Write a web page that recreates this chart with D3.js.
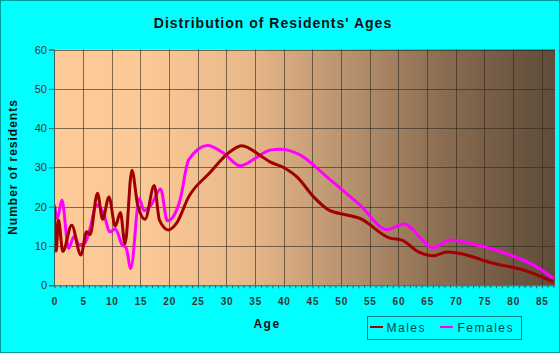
<!DOCTYPE html>
<html><head><meta charset="utf-8">
<script src="https://cdn.jsdelivr.net/npm/d3@7"></script>
<style>html,body{margin:0;padding:0;background:#00ffff;}svg{display:block;font-family:Arial,"Liberation Sans",sans-serif;}</style>
</head><body>
<script>
const maleAges   = [0,0.3,0.7,1.45,3.0,4.6,5.6,6.2,7.5,8.4,9.5,10.6,11.5,12.3,13.5,14.5,15.8,17.4,18.3,19.9,21.3,23.4,27,30.6,32.7,35.9,37.6,40.2,42.3,45.2,47.8,51,53.3,58.5,60.6,63.5,66.1,68.4,70.7,76.5,81.8,87];
const maleValues = [20,8.7,16.6,8.6,15.3,7.7,13.6,12.9,23.4,16.8,22.5,15,18.5,10.5,29.3,20.5,16.8,25.4,16.6,14.1,15.8,22.5,28.5,34,35.5,33,31.4,29.8,27.6,22.5,19.2,17.9,17,12,11.5,8.5,7.5,8.5,8.1,5.6,3.9,0.9];
const femaleAges   = [0,0.5,1.3,2.45,3.4,4.3,5.2,6.3,7.3,8.5,9.7,10.6,11.8,12.5,13.3,14.8,15.6,16.8,18.5,19.7,20.9,21.9,23.4,26.7,29.5,32.4,35,37.6,39.4,42.8,47.5,53.3,58,60.9,66.1,69,73.6,79.5,83.5,87];
const femaleValues = [20.5,17,21.7,9.4,12.4,10.3,10.5,15,20.5,18.5,13.6,14.3,10.3,9.5,4.3,22,19,20.3,24.5,16.4,17.9,21.7,31.9,35.6,33.6,30.4,32.3,34.4,34.6,33.2,27.6,20.4,14.2,15.6,9.6,11.5,10.3,7.7,5.2,1.8];
const yTicks = [0,10,20,30,40,50,60];
const xTicks = [0,5,10,15,20,25,30,35,40,45,50,55,60,65,70,75,80,85];

const W=560,H=353;
const svg=d3.select("body").append("svg").attr("width",W).attr("height",H);
svg.append("rect").attr("x",0.5).attr("y",0.5).attr("width",W-1).attr("height",H-1).attr("fill","#00ffff").attr("stroke","#009a9a");

const x=d3.scaleLinear().domain([0,87.3]).range([54.5,555]);
const y=d3.scaleLinear().domain([0,60]).range([285.3,49.5]);

const defs=svg.append("defs");
const g=defs.append("linearGradient").attr("id","bg").attr("x1","0").attr("x2","1").attr("y1","0").attr("y2","0");
[[0,"#fecb98"],[0.18,"#fbc996"],[0.38,"#eab98b"],[0.58,"#b8936f"],[0.78,"#8a6c51"],[1,"#5e4b39"]].forEach(s=>g.append("stop").attr("offset",s[0]).attr("stop-color",s[1]));

svg.append("rect").attr("x",x(0)).attr("y",y(60)).attr("width",x(87.3)-x(0)).attr("height",y(0)-y(60)).attr("fill","url(#bg)");

// grid
svg.append("g").selectAll("line").data(yTicks.filter(d=>d>0)).join("line")
  .attr("x1",x(0)).attr("x2",x(87.3)).attr("y1",d=>Math.round(y(d))+0.5).attr("y2",d=>Math.round(y(d))+0.5)
  .attr("stroke","rgba(45,38,30,0.6)").attr("stroke-width",1);
svg.append("g").selectAll("line").data(xTicks.filter(d=>d>0)).join("line")
  .attr("y1",y(0)).attr("y2",y(60)).attr("x1",d=>Math.round(x(d))+0.5).attr("x2",d=>Math.round(x(d))+0.5)
  .attr("stroke","rgba(45,38,30,0.6)").attr("stroke-width",1);

// lines
const clip=defs.append("clipPath").attr("id","clip").append("rect").attr("x",x(0)).attr("y",y(60)).attr("width",x(87.3)-x(0)).attr("height",y(0)-y(60));
const line=d3.line().x(d=>x(d[0])).y(d=>y(d[1])).curve(d3.curveMonotoneX);
const lg=svg.append("g").attr("clip-path","url(#clip)");
lg.append("path").datum(femaleAges.map((a,i)=>[a,femaleValues[i]])).attr("d",line).attr("fill","none").attr("stroke","#ff00ff").attr("stroke-width",3).attr("stroke-linejoin","round");
lg.append("path").datum(maleAges.map((a,i)=>[a,maleValues[i]])).attr("d",line).attr("fill","none").attr("stroke","#a00000").attr("stroke-width",3).attr("stroke-linejoin","round");

// axes
const yAxis=svg.append("g").attr("transform",`translate(${x(0)-0.5},0)`).call(d3.axisLeft(y).tickValues(yTicks).tickSize(5).tickPadding(2).tickFormat(d3.format("d")));
yAxis.select(".domain").attr("stroke","#336666");
yAxis.selectAll(".tick line").attr("stroke","#336666");
yAxis.selectAll("text").attr("font-size",11).attr("fill","#333").attr("font-family","Arial,'Liberation Sans',sans-serif");

const xAxis=svg.append("g").attr("transform",`translate(0,${y(0)})`).call(d3.axisBottom(x).tickValues(d3.range(0,88,1)).tickSize(3).tickFormat(""));
xAxis.select(".domain").attr("stroke","#336666").attr("d",`M${x(0)},0.5H${x(87.3)}`);
xAxis.selectAll(".tick line").attr("stroke","#336666");
svg.append("g").selectAll("text").data(xTicks).join("text")
  .attr("x",d=>x(d)+0.5).attr("y",305).attr("text-anchor","middle").attr("font-size",10).attr("font-weight","bold")
  .attr("letter-spacing","0.8").attr("fill","#333").text(d=>d);

// title and labels
svg.append("text").attr("x",273).attr("y",28).attr("text-anchor","middle").attr("font-size",14).attr("font-weight","bold").attr("letter-spacing","1").attr("fill","#111").text("Distribution of Residents' Ages");
svg.append("text").attr("transform","translate(17,167) rotate(-90)").attr("text-anchor","middle").attr("font-size",12).attr("font-weight","bold").attr("letter-spacing","1").attr("fill","#111").text("Number of residents");
svg.append("text").attr("x",267).attr("y",328).attr("text-anchor","middle").attr("font-size",12).attr("font-weight","bold").attr("letter-spacing","1.5").attr("fill","#111").text("Age");

// legend
svg.append("rect").attr("x",367.5).attr("y",316.5).attr("width",154).attr("height",23).attr("fill","none").attr("stroke","#008080");
const legend=[["Males","#a00000",370,386.5],["Females","#ff00ff",440,457.5]];
legend.forEach(l=>{
  svg.append("line").attr("x1",l[2]).attr("x2",l[2]+13).attr("y1",327).attr("y2",327).attr("stroke",l[1]).attr("stroke-width",2);
  svg.append("text").attr("x",l[3]).attr("y",332).attr("font-size",12).attr("letter-spacing","1.5").attr("fill","#004848").text(l[0]);
});
</script>
</body></html>
